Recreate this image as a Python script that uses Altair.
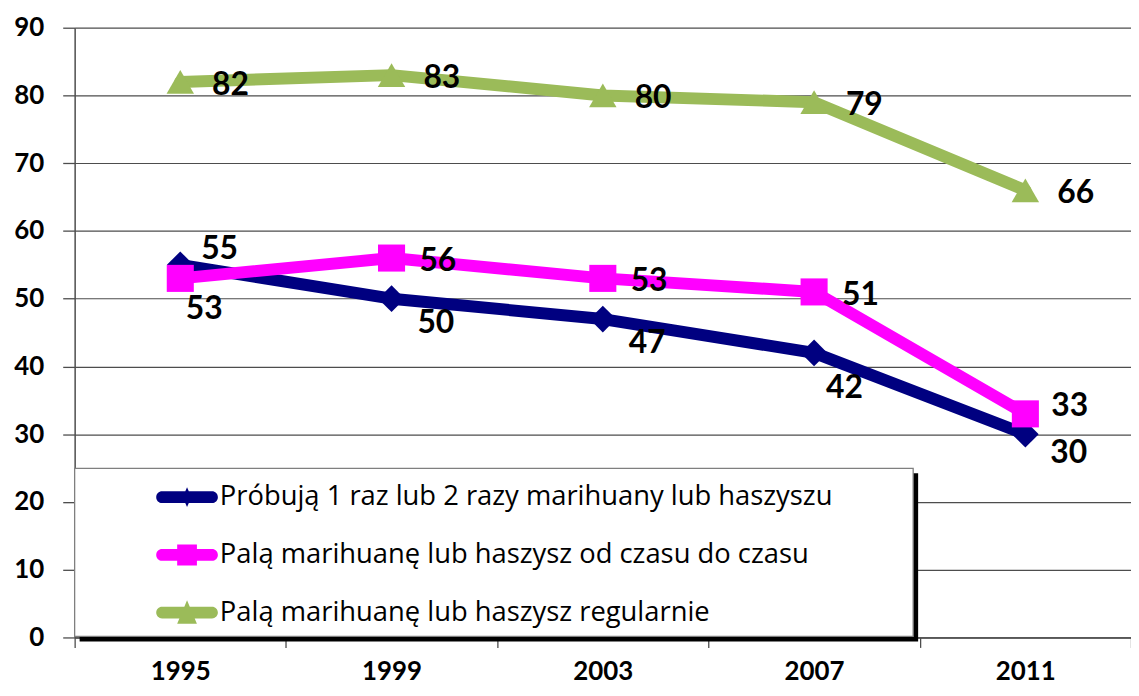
import altair as alt
import pandas as pd

# ---------------- data ----------------
years = ["1995", "1999", "2003", "2007", "2011"]
series_names = [
    "Próbują 1 raz lub 2 razy marihuany lub haszyszu",
    "Palą marihuanę lub haszysz od czasu do czasu",
    "Palą marihuanę lub haszysz regularnie",
]
trial = [55, 50, 47, 42, 30]
occasional = [53, 56, 53, 51, 33]
regular = [82, 83, 80, 79, 66]
y_ticks = [0, 10, 20, 30, 40, 50, 60, 70, 80, 90]

# ---------------- styles ----------------
colors = ["#000080", "#FF00FF", "#9BBB59"]
marker_shapes = ["diamond", "square", "triangle-up"]
marker_sizes = [720, 760, 1750]
legend_paths = [
    "M-0.81,-0.19L0.81,-0.19A0.19,0.19 0 0 1 0.81,0.19L-0.81,0.19A0.19,0.19 0 0 1 -0.81,-0.19Z"
    "M0,-0.32L0.14,0L0,0.32L-0.14,0Z",
    "M-0.81,-0.19L0.81,-0.19A0.19,0.19 0 0 1 0.81,0.19L-0.81,0.19A0.19,0.19 0 0 1 -0.81,-0.19Z"
    "M-0.32,-0.34L0.32,-0.34L0.32,0.34L-0.32,0.34Z",
    "M-0.81,-0.19L0.81,-0.19A0.19,0.19 0 0 1 0.81,0.19L-0.81,0.19A0.19,0.19 0 0 1 -0.81,-0.19Z"
    "M0,-0.4L0.32,0.36L-0.32,0.36Z",
]
FONT = "Lato"
LEG_FONT = "Open Sans"

rows = []
for s, vals in zip(series_names, [trial, occasional, regular]):
    for yr, v in zip(years, vals):
        rows.append({"year": yr, "series": s, "leg": s, "value": v, "label": str(v)})
df = pd.DataFrame(rows)

W, H = 1062, 613

x_enc = alt.X("year:O", scale=alt.Scale(domain=years, paddingInner=0, paddingOuter=0),
              axis=alt.Axis(title=None, labelAngle=0, tickBand="extent", tickSize=10,
                            labelPadding=11, labelFontSize=26, labelFontWeight="bold",
                            labelFont=FONT, labelColor="#000", domainColor="#4d4d4d",
                            tickColor="#4d4d4d", domainWidth=1.5, tickWidth=1.3, grid=False))
y_enc = alt.Y("value:Q", scale=alt.Scale(domain=[0, 90], nice=False, zero=True),
              axis=alt.Axis(title=None, values=y_ticks, tickSize=12, labelPadding=19,
                            labelFontSize=26, labelFontWeight="bold", labelFont=FONT,
                            labelColor="#000", domainColor="#4d4d4d", tickColor="#4d4d4d",
                            domainWidth=1.5, tickWidth=1.3, grid=True, gridColor="#4d4d4d",
                            gridWidth=1.2))

color_scale = alt.Scale(domain=series_names, range=colors)

base = alt.Chart(df)

lines = base.mark_line(strokeWidth=12, strokeJoin="round", strokeCap="round").encode(
    x=x_enc, y=y_enc,
    color=alt.Color("series:N", scale=color_scale, legend=None),
    detail="series:N",
)

points = base.mark_point(filled=True, opacity=1).encode(
    x=x_enc, y=y_enc,
    color=alt.Color("series:N", scale=color_scale, legend=None),
    shape=alt.Shape("series:N", scale=alt.Scale(domain=series_names, range=marker_shapes), legend=None),
    size=alt.Size("series:N", scale=alt.Scale(domain=series_names, range=marker_sizes), legend=None),
)

# label placement groups: (series index, years, dx, dy, align)
label_groups = [
    (2, years, 32, 3, "left"),
    (1, ["1999", "2003", "2007"], 28, 3, "left"),
    (1, ["2011"], 26, -8, "left"),
    (1, ["1995"], 24, 31, "center"),
    (0, ["1995"], 21, -16, "left"),
    (0, ["1999", "2003"], 26, 24, "left"),
    (0, ["2007"], 12, 35, "left"),
    (0, ["2011"], 25, 19, "left"),
]
label_layers = []
for si, yrs, dx, dy, al in label_groups:
    label_layers.append(
        base.transform_filter(alt.FieldEqualPredicate(field="series", equal=series_names[si]))
        .transform_filter(alt.FieldOneOfPredicate(field="year", oneOf=yrs))
        .mark_text(dx=dx, dy=dy, align=al, baseline="middle", fontSize=32,
                   fontWeight="bold", font=FONT, color="#000")
        .encode(x=x_enc, y=y_enc, text="label:N")
    )

box_df = pd.DataFrame({"k": [0]})
shadow = alt.Chart(box_df).mark_rect(fill="#000").encode(
    x=alt.value(5), x2=alt.value(848), y=alt.value(448), y2=alt.value(617))
box = alt.Chart(box_df).mark_rect(fill="#fff", stroke="#7f7f7f", strokeWidth=1.3).encode(
    x=alt.value(0), x2=alt.value(843), y=alt.value(443), y2=alt.value(612))

leg = alt.Legend(title=None, orient="none", legendX=82, legendY=441, symbolSize=3844,
                 symbolOpacity=1, symbolStrokeWidth=0, labelFontSize=27.5, labelFont=LEG_FONT,
                 labelColor="#000", labelLimit=1200, labelOffset=2, rowPadding=13,
                 padding=0, symbolOffset=0)
legend_layer = base.mark_point(filled=True, opacity=0).encode(
    x=x_enc, y=y_enc,
    color=alt.Color("leg:N", scale=alt.Scale(domain=series_names, range=colors), legend=leg),
    shape=alt.Shape("leg:N", scale=alt.Scale(domain=series_names, range=legend_paths), legend=leg),
)

chart = alt.layer(shadow, box, lines, points, *label_layers, legend_layer).resolve_scale(
    color="independent", shape="independent", size="independent"
).properties(
    width=W, height=H,
    autosize=alt.AutoSizeParams(type="none"),
    padding={"left": 67, "top": 18, "right": 0, "bottom": 49},
    background="white",
).configure_view(stroke=None)

chart.save("out.html", embed_options={"renderer": "svg", "actions": False})
